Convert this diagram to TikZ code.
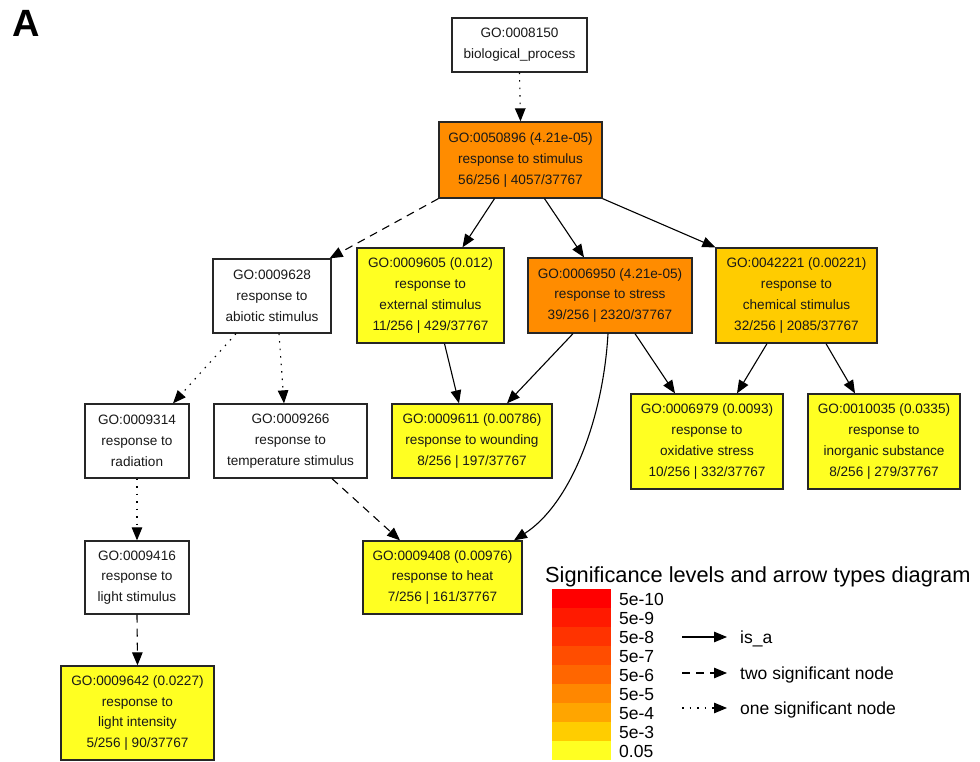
\documentclass[tikz,border=0pt]{standalone}
\usepackage{fontspec}
\setmainfont{Liberation Sans}
\usetikzlibrary{arrows.meta}
\definecolor{goorange}{RGB}{255,140,0}
\definecolor{gogold}{RGB}{255,204,0}
\definecolor{goyellow}{RGB}{255,255,34}
\definecolor{lvA}{RGB}{255,0,0}
\definecolor{lvB}{RGB}{255,26,0}
\definecolor{lvC}{RGB}{255,51,0}
\definecolor{lvD}{RGB}{255,77,0}
\definecolor{lvE}{RGB}{255,102,0}
\definecolor{lvF}{RGB}{255,135,0}
\definecolor{lvG}{RGB}{255,165,0}
\definecolor{lvH}{RGB}{255,205,0}
\definecolor{lvI}{RGB}{255,255,34}
\tikzset{
  gobox/.style={draw=black!85, line width=1.3pt, rectangle, inner sep=0pt, align=center,
    font=\fontsize{13.6}{20.7}\selectfont, text=black!90},
  isa/.style={line width=1.1pt, -{Triangle[length=13pt,width=10.5pt]}},
  twosig/.style={isa, dash pattern=on 8pt off 6pt},
  onesig/.style={isa, dash pattern=on 1.5pt off 6pt},
  legtext/.style={font=\fontsize{17.5}{17.5}\selectfont, anchor=base west, inner sep=0pt},
}
\begin{document}
\begin{tikzpicture}[x=1pt,y=-1pt]
\useasboundingbox (0,0) rectangle (980,762);
\node[font=\fontsize{38}{38}\selectfont\bfseries, inner sep=0pt] (lblA) at (26,23.5) {A};

% nodes
\node[gobox, fill=white, minimum width=135pt, minimum height=54pt] (n8150) at (519.5,45) {GO:0008150\\biological\_process};
\node[gobox, fill=goorange, minimum width=163pt, minimum height=76pt] (n50896) at (520.5,160) {GO:0050896 (4.21e-05)\\response to stimulus\\56/256 | 4057/37767};
\node[gobox, fill=white, minimum width=118pt, minimum height=74pt] (n9628) at (272,296) {GO:0009628\\response to\\abiotic stimulus};
\node[gobox, fill=goyellow, minimum width=147pt, minimum height=95pt] (n9605) at (430.5,295.5) {GO:0009605 (0.012)\\response to\\external stimulus\\11/256 | 429/37767};
\node[gobox, fill=goorange, minimum width=164pt, minimum height=75pt] (n6950) at (610,295.5) {GO:0006950 (4.21e-05)\\response to stress\\39/256 | 2320/37767};
\node[gobox, fill=gogold, minimum width=161pt, minimum height=95pt] (n42221) at (796.5,295.5) {GO:0042221 (0.00221)\\response to\\chemical stimulus\\32/256 | 2085/37767};
\node[gobox, fill=white, minimum width=104pt, minimum height=74pt] (n9314) at (137,441) {GO:0009314\\response to\\radiation};
\node[gobox, fill=white, minimum width=153pt, minimum height=74pt] (n9266) at (290.5,441) {GO:0009266\\response to\\temperature stimulus};
\node[gobox, fill=goyellow, minimum width=160pt, minimum height=74pt] (n9611) at (472,441) {GO:0009611 (0.00786)\\response to wounding\\8/256 | 197/37767};
\node[gobox, fill=goyellow, minimum width=152pt, minimum height=95pt] (n6979) at (707,441.5) {GO:0006979 (0.0093)\\response to\\oxidative stress\\10/256 | 332/37767};
\node[gobox, fill=goyellow, minimum width=152pt, minimum height=95pt] (n10035) at (884,441.5) {GO:0010035 (0.0335)\\response to\\inorganic substance\\8/256 | 279/37767};
\node[gobox, fill=white, minimum width=104pt, minimum height=73pt] (n9416) at (137,577.5) {GO:0009416\\response to\\light stimulus};
\node[gobox, fill=goyellow, minimum width=159pt, minimum height=73pt] (n9408) at (442.5,577.5) {GO:0009408 (0.00976)\\response to heat\\7/256 | 161/37767};
\node[gobox, fill=goyellow, minimum width=153pt, minimum height=94pt] (n9642) at (137.5,713) {GO:0009642 (0.0227)\\response to\\light intensity\\5/256 | 90/37767};

% edges
\draw[onesig] (n8150.south) -- (n50896.north);
\draw[twosig] (n50896.south west) -- ([xshift=-2pt]n9628.north east);
\draw[isa] ([xshift=-26pt]n50896.south) -- ([xshift=32pt]n9605.north);
\draw[isa] ([xshift=24pt]n50896.south) -- ([xshift=-26pt]n6950.north);
\draw[isa] (n50896.south east) -- (n42221.north west);
\draw[onesig] ([xshift=-36pt]n9628.south) -- ([xshift=36pt]n9314.north);
\draw[onesig] ([xshift=7pt]n9628.south) -- ([xshift=-6.5pt]n9266.north);
\draw[isa] ([xshift=14pt]n9605.south) -- ([xshift=-13pt]n9611.north);
\draw[isa] ([xshift=-37pt]n6950.south) -- ([xshift=35pt]n9611.north);
\draw[isa] ([xshift=-2pt]n6950.south) .. controls +(-5,87) and +(56,-36) .. ([xshift=71.5pt]n9408.north);
\draw[isa] ([xshift=25pt]n6950.south) -- ([xshift=-32pt]n6979.north);
\draw[isa] ([xshift=-29.5pt]n42221.south) -- ([xshift=30pt]n6979.north);
\draw[isa] ([xshift=29.5pt]n42221.south) -- ([xshift=-29pt]n10035.north);
\draw[twosig] ([xshift=41.5pt]n9266.south) -- ([xshift=-42.5pt]n9408.north);
\draw[onesig] (n9314.south) -- (n9416.north);
\draw[twosig] (n9416.south) -- (n9642.north);

% legend
\node[font=\fontsize{21.8}{21.8}\selectfont, anchor=base west, inner sep=0pt] (legtitle) at (545,582) {Significance levels and arrow types diagram};
\foreach \c [count=\i from 0] in {lvA,lvB,lvC,lvD,lvE,lvF,lvG,lvH,lvI} {
  \fill[\c] (552,589+19*\i) rectangle (611,608+19*\i);
}
\foreach \t [count=\i from 0] in {5e-10,5e-9,5e-8,5e-7,5e-6,5e-5,5e-4,5e-3,0.05} {
  \node[legtext] (lv\i) at (619,605+19*\i) {\t};
}
\coordinate (la1) at (682,637); \coordinate (lb1) at (727,637);
\coordinate (la2) at (682,673); \coordinate (lb2) at (727,673);
\coordinate (la3) at (682,708); \coordinate (lb3) at (727,708);
\draw[isa] (la1) -- (lb1);
\draw[twosig] (la2) -- (lb2);
\draw[onesig] (la3) -- (lb3);
\node[legtext] (t1) at (740,643) {is\_a};
\node[legtext] (t2) at (740,679) {two significant node};
\node[legtext] (t3) at (740,714) {one significant node};
\end{tikzpicture}
\end{document}
